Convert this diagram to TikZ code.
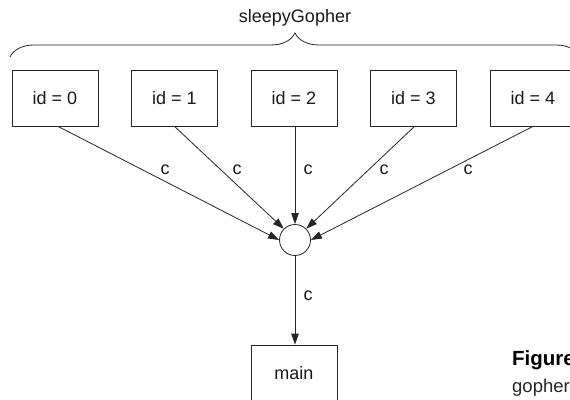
\documentclass[tikz,border=0pt]{standalone}
\usepackage{fontspec}
\setmainfont{Liberation Sans}
\usetikzlibrary{arrows.meta,decorations.pathreplacing}
\begin{document}
\begin{tikzpicture}[x=1pt,y=-1pt,
  every node/.style={font=\fontsize{18}{21}\selectfont, text=black!90},
  idbox/.style={draw=black!85, line width=0.8pt, minimum width=86pt, minimum height=56pt, inner sep=0pt},
  hub/.style={draw=black!85, line width=0.8pt, circle, minimum size=31pt, inner sep=0pt},
  arr/.style={draw=black!85, line width=0.8pt, -{Triangle[length=11pt,width=7.5pt]}},
  lbl/.style={inner sep=0pt}]
\useasboundingbox (0,0) rectangle (570,399);
\clip (0,0) rectangle (570,399);
\fill[white] (0,0) rectangle (570,399);
% brace
\draw[black!85, line width=0.8pt, decorate, decoration={brace, amplitude=24pt}] (10,57) -- (580,57);
\node (title) at (295,18) {sleepyGopher};
% boxes
\node[idbox] (b0) at (55,98) {id = 0};
\node[idbox] (b1) at (174.5,98) {id = 1};
\node[idbox] (b2) at (294,98) {id = 2};
\node[idbox] (b3) at (413.5,98) {id = 3};
\node[idbox] (b4) at (533,98) {id = 4};
\node[hub] (hub) at (295,240) {};
\node[idbox] (main) at (294,373) {main};
% connectors
\draw[arr] ([xshift=3pt]b0.south) -- (hub.west);
\draw[arr] (b1.south) -- (hub.north west);
\draw[arr] (hub.north |- b2.south) -- (hub.north);
\draw[arr] ([xshift=1pt]b3.south) -- (hub.north east);
\draw[arr] (b4.south) -- (hub.east);
\draw[arr] (hub.south) -- (hub.south |- main.north);
% labels
\node[lbl] (l0) at (165,170) {c};
\node[lbl] (l1) at (237,170) {c};
\node[lbl] (l2) at (308,170) {c};
\node[lbl] (l3) at (384,170) {c};
\node[lbl] (l4) at (468,170) {c};
\node[lbl] (l5) at (308,296) {c};
% caption fragment (cut off by the page edge, as in the reference)
\node[anchor=base west, inner sep=0pt, font=\fontsize{20.5}{23}\selectfont\bfseries, text=black] (fig) at (512,365) {Figure 14.4};
\node[anchor=base west, inner sep=0pt, font=\fontsize{18.5}{22}\selectfont, text=black!85] (cap) at (512,392) {gophers};
\end{tikzpicture}
\end{document}
